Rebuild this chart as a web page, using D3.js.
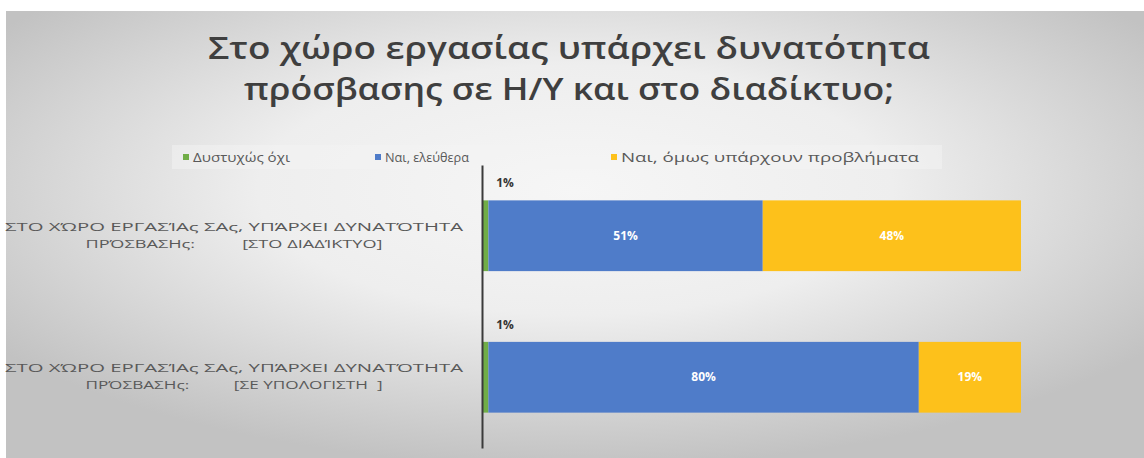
<!DOCTYPE html>
<html>
<head>
<meta charset="utf-8">
<script src="https://cdn.jsdelivr.net/npm/d3@7"></script>
<style>
  html, body { margin: 0; padding: 0; background: #ffffff; }
  svg { display: block; }
  text { font-family: "Open Sans", "Noto Sans", sans-serif; }
</style>
</head>
<body>
<svg id="chart" width="1144" height="458"></svg>
<script>
// Survey question and answer categories
const titleLines = [
  "Στο χώρο εργασίας υπάρχει δυνατότητα",
  "πρόσβασης σε Η/Υ και στο διαδίκτυο;"
];
const categories = ["internet", "computer"];
const categoryLines = [
  ["ΣΤΟ ΧΏΡΟ ΕΡΓΑΣΊΑς ΣΑς, ΥΠΆΡΧΕΙ ΔΥΝΑΤΌΤΗΤΑ", "ΠΡΌΣΒΑΣΗς:          [ΣΤΟ ΔΙΑΔΊΚΤΥΟ]"],
  ["ΣΤΟ ΧΏΡΟ ΕΡΓΑΣΊΑς ΣΑς, ΥΠΆΡΧΕΙ ΔΥΝΑΤΌΤΗΤΑ", "ΠΡΌΣΒΑΣΗς:          [ΣΕ ΥΠΟΛΟΓΙΣΤΗ  ]"]
];
const seriesNames = ["Δυστυχώς όχι", "Ναι, ελεύθερα", "Ναι, όμως υπάρχουν προβλήματα"];
const seriesColors = ["#70ad47", "#4f7cc9", "#fdc11b"];
// percentage per series, one value per category
const noValues = [1, 1];
const freeValues = [51, 80];
const problemValues = [48, 19];

const rows = categories.map((c, i) => ({
  cat: c,
  s0: noValues[i],
  s1: freeValues[i],
  s2: problemValues[i]
}));

const svg = d3.select("#chart");
const W = 1144, H = 458;

// soft radial background panel
const defs = svg.append("defs");
const grad = defs.append("radialGradient")
  .attr("id", "bg").attr("cx", "50%").attr("cy", "40%").attr("r", "62%");
grad.append("stop").attr("offset", "0%").attr("stop-color", "#f6f6f6");
grad.append("stop").attr("offset", "45%").attr("stop-color", "#eeeeee");
grad.append("stop").attr("offset", "100%").attr("stop-color", "#c2c2c2");
svg.append("rect").attr("x", 6).attr("y", 11).attr("width", W - 6).attr("height", H - 11)
  .attr("fill", "url(#bg)");

// title
svg.append("g").selectAll("text").data(titleLines).join("text")
  .attr("x", 569).attr("y", (d, i) => 59 + i * 41)
  .attr("text-anchor", "middle")
  .attr("font-size", 30).attr("font-weight", 600)
  .attr("fill", "#3f3f3f")
  .attr("textLength", (d, i) => i === 0 ? 722 : 650)
  .attr("lengthAdjust", "spacingAndGlyphs")
  .text(d => d);

// legend
const legendX = [183, 375, 611];
const legendW = [97, 84, 298];
const legend = svg.append("g");
legend.append("rect").attr("x", 172).attr("y", 145).attr("width", 770).attr("height", 24)
  .attr("fill", "#f4f4f4").attr("opacity", 0.5);
const li = legend.selectAll("g").data(seriesNames).join("g")
  .attr("transform", (d, i) => `translate(${legendX[i]},157)`);
li.append("rect").attr("x", 0).attr("y", -3).attr("width", 6).attr("height", 6)
  .attr("fill", (d, i) => seriesColors[i]);
li.append("text").attr("x", 10).attr("y", 4.5)
  .attr("font-size", 12).attr("fill", "#595959")
  .attr("textLength", (d, i) => legendW[i]).attr("lengthAdjust", "spacingAndGlyphs")
  .text(d => d);

// scales
const x = d3.scaleLinear().domain([0, 100]).range([483, 1021]);
const y = d3.scaleBand().domain(categories).range([165, 448])
  .paddingInner(0.5).paddingOuter(0.25);

const stack = d3.stack().keys(["s0", "s1", "s2"]);
const layers = stack(rows);

const barsG = svg.append("g");
layers.forEach((layer, si) => {
  barsG.append("g").attr("fill", seriesColors[si])
    .selectAll("rect").data(layer).join("rect")
    .attr("x", d => x(d[0]))
    .attr("y", d => y(d.data.cat))
    .attr("width", d => x(d[1]) - x(d[0]))
    .attr("height", y.bandwidth());
});

// value labels: inside for large segments, above the bar for tiny ones
const labelsG = svg.append("g");
layers.forEach((layer, si) => {
  layer.forEach(d => {
    const v = d[1] - d[0];
    const small = v < 5;
    labelsG.append("text")
      .attr("x", small ? x(d[0]) + 22 : (x(d[0]) + x(d[1])) / 2)
      .attr("y", small ? y(d.data.cat) - 13 : y(d.data.cat) + y.bandwidth() / 2 + 4)
      .attr("text-anchor", "middle")
      .attr("font-size", 12).attr("font-weight", 700)
      .attr("fill", small ? "#333333" : "#ffffff")
      .text(v + "%");
  });
});

// vertical category axis
const axis = d3.axisLeft(y).tickSize(0).tickFormat("");
const axG = svg.append("g").attr("transform", "translate(482,0)").call(axis);
axG.select(".domain").attr("stroke", "#3a3a3a").attr("stroke-width", 2);

// category labels, two lines each
const catG = svg.append("g");
categories.forEach((c, i) => {
  const cy = y(c) + y.bandwidth() / 2;
  categoryLines[i].forEach((line, j) => {
    catG.append("text")
      .attr("x", 234).attr("y", cy - 5 + j * 17)
      .attr("text-anchor", "middle")
      .attr("font-size", 11.5).attr("fill", "#595959")
      .style("white-space", "pre")
      .attr("xml:space", "preserve")
      .attr("textLength", j === 0 ? 458 : 297)
      .attr("lengthAdjust", "spacingAndGlyphs")
      .text(line);
  });
});
</script>
</body>
</html>
